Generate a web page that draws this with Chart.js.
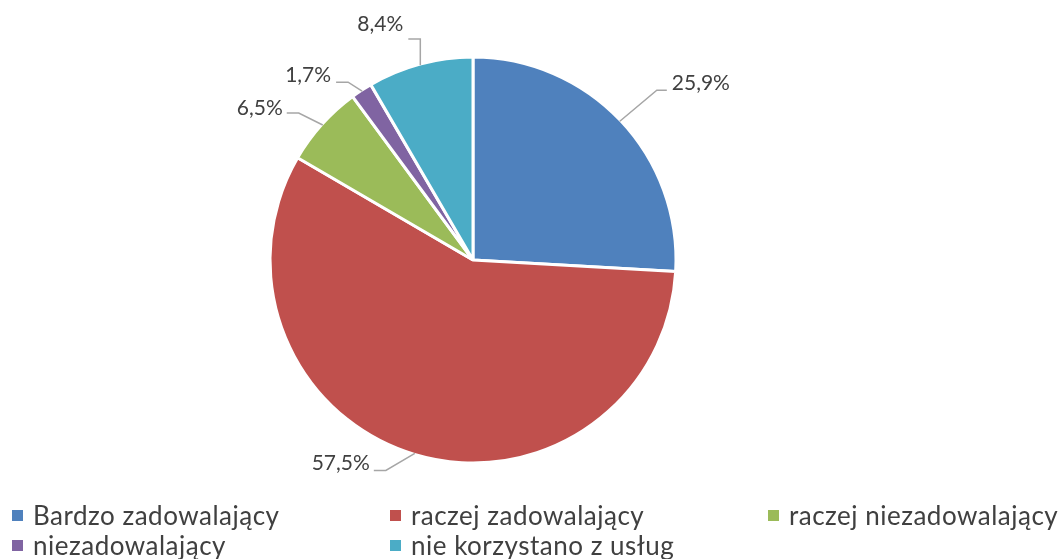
<!DOCTYPE html>
<html>
<head>
<meta charset="utf-8">
<script src="https://cdn.jsdelivr.net/npm/chart.js@4/dist/chart.umd.min.js"></script>
<style>
  html, body { margin: 0; padding: 0; background: #ffffff; }
  #wrap { position: relative; width: 1062px; height: 559px; overflow: hidden; }
  #c { position: absolute; left: 0; top: 0; }
  #legend {
    position: absolute; left: 12px; top: 500px;
    display: grid; grid-template-columns: 378px 378px 294px;
    font-family: Lato, "Open Sans", sans-serif; font-size: 26px; letter-spacing: 0.5px; color: #404040;
  }
  .item { display: flex; align-items: center; height: 30px; white-space: nowrap; }
  .sw { width: 11px; height: 11px; margin-right: 10px; flex: none; }
</style>
</head>
<body>
<div id="wrap">
  <canvas id="c" width="1062" height="559"></canvas>
  <div id="legend"></div>
</div>
<script>
// Categories and shares (percent)
const categories = [
  "Bardzo zadowalający",
  "raczej zadowalający",
  "raczej niezadowalający",
  "niezadowalający",
  "nie korzystano z usług"
];
const shares = [25.9, 57.5, 6.5, 1.7, 8.4];

// Slice colours
const sliceColors = ["#4F81BD", "#C0504D", "#9BBB59", "#8064A2", "#4BACC6"];

// Leader-line geometry for each value label, relative to the slice's outer mid point
const labelLayout = [
  { dx: 37,  dy: -31, tail: 10,  tx: 5,  ty: 0 },
  { dx: -29, dy: 17,  tail: -12, tx: -4, ty: 0 },
  { dx: -24, dy: -12, tail: -12, tx: -4, ty: 2 },
  { dx: -14, dy: -9,  tail: -12, tx: -5, ty: 0 },
  { dx: 0,   dy: -26, tail: -12, tx: -5, ty: -8 }
];

const fmt = v => v.toFixed(1).replace(".", ",") + "%";

const leaderLabels = {
  id: "leaderLabels",
  afterDatasetsDraw(chart) {
    const ctx = chart.ctx;
    const meta = chart.getDatasetMeta(0);
    const values = chart.data.datasets[0].data;
    ctx.save();
    ctx.font = "21px Lato, 'Open Sans', sans-serif";
    ctx.textBaseline = "alphabetic";
    meta.data.forEach((arc, i) => {
      const p = arc.getProps(["x", "y", "startAngle", "endAngle", "outerRadius"], true);
      const mid = (p.startAngle + p.endAngle) / 2;
      const r = p.outerRadius - 1;
      const ax = p.x + Math.cos(mid) * r;
      const ay = p.y + Math.sin(mid) * r;
      const L = labelLayout[i];
      const ex = ax + L.dx, ey = ay + L.dy;
      const tx = ex + L.tail;
      ctx.strokeStyle = "#A6A6A6";
      ctx.lineWidth = 1.5;
      ctx.beginPath();
      ctx.moveTo(ax, ay);
      ctx.lineTo(ex, ey);
      ctx.lineTo(tx, ey);
      ctx.stroke();
      ctx.fillStyle = "#404040";
      ctx.textAlign = L.tail >= 0 ? "left" : "right";
      ctx.fillText(fmt(values[i]), tx + L.tx, ey + L.ty);
    });
    ctx.restore();
  }
};

const chart = new Chart(document.getElementById("c"), {
  type: "pie",
  data: {
    labels: categories,
    datasets: [{
      data: shares,
      backgroundColor: sliceColors,
      borderColor: "#FFFFFF",
      borderWidth: 3
    }]
  },
  options: {
    responsive: false,
    animation: false,
    radius: 203,
    layout: { padding: { left: 0, right: 116, top: 0, bottom: 39 } },
    plugins: {
      legend: { display: false },
      tooltip: { enabled: false }
    }
  },
  plugins: [leaderLabels]
});

// Legend built from the chart's own labels and colours
const legendEl = document.getElementById("legend");
chart.data.labels.forEach((name, i) => {
  const item = document.createElement("div");
  item.className = "item";
  const sw = document.createElement("span");
  sw.className = "sw";
  sw.style.background = chart.data.datasets[0].backgroundColor[i];
  const txt = document.createElement("span");
  txt.textContent = name;
  item.appendChild(sw);
  item.appendChild(txt);
  legendEl.appendChild(item);
});
</script>
</body>
</html>
